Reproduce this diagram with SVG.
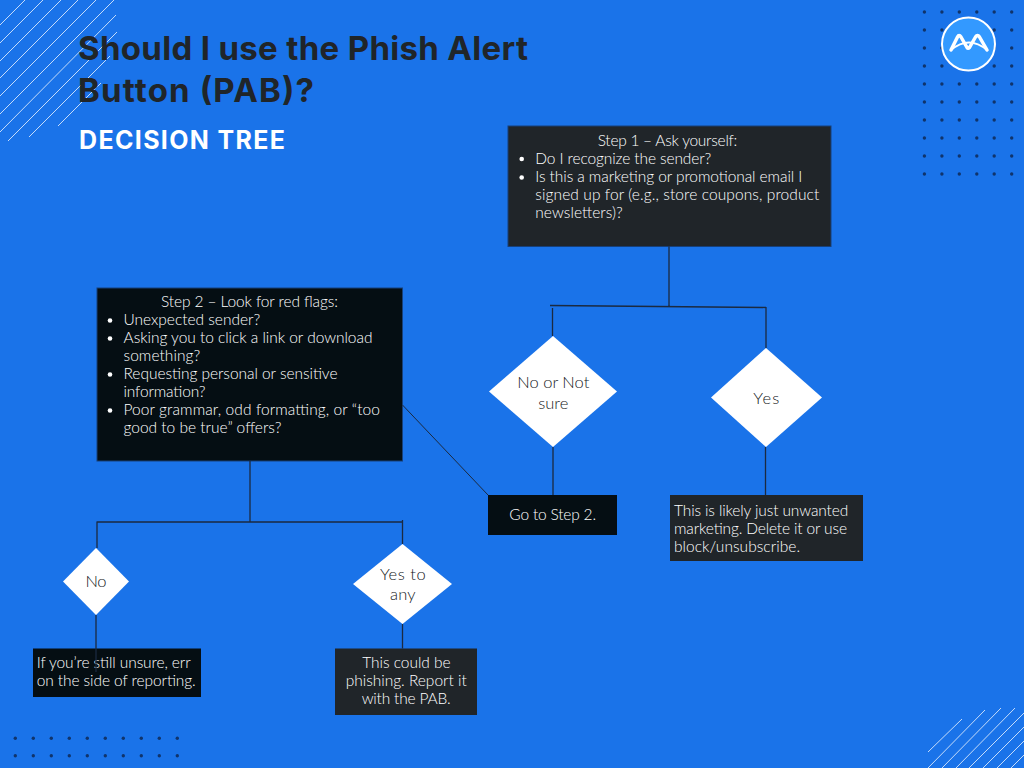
<svg xmlns="http://www.w3.org/2000/svg" width="1024" height="768" viewBox="0 0 1024 768">
<style>
text{font-family:"Lato","Noto Sans",sans-serif}
.t{font-family:Inter,"Liberation Sans",sans-serif;font-weight:700}
.b{font-size:15.500px;fill:#fff;font-weight:300}
.d{font-size:16.500px;fill:#15181b;text-anchor:middle;font-weight:300}
.c{text-anchor:middle}
.dk{fill:#202529}
.bk{fill:#050e13}
.w{fill:#fff}
.bul{fill:#fff}
.st{stroke:#fff;stroke-width:1;fill:none;opacity:.75}
.con{stroke:#1b2a40;stroke-width:1.300;fill:none}
.box{stroke:#17407a;stroke-width:1}
</style>
<defs>
<circle id="dot" r="1.7" fill="#10346b"/>
</defs>
<rect width="1024" height="768" fill="#1a73e9"/>
<g id="stripes-tl" class="st">
<path d="M0 25L25 0M0 43L43 0M0 61L61 0M0 78L78 0M0 96L96 0M0 114L114 0M0 132L116 15M8 141L117 32M29 137L110 56M58 126L101 83"/>
</g>
<g id="stripes-br" class="st">
<path d="M928 752L962 719M928 768L985 710M942 768L1001 708M956 768L1015 708M969 768L1024 713M983 768L1024 727M997 768L1024 741M1011 768L1024 755"/>
</g>
<g id="dots-tr">
<use href="#dot" x="924.4" y="12"/><use href="#dot" x="941.9" y="12"/><use href="#dot" x="959.3" y="12"/><use href="#dot" x="976.8" y="12"/><use href="#dot" x="994.2" y="12"/><use href="#dot" x="1011.7" y="12"/>
<use href="#dot" x="924.4" y="30"/><use href="#dot" x="941.9" y="30"/><use href="#dot" x="994.2" y="30"/><use href="#dot" x="1011.7" y="30"/>
<use href="#dot" x="924.4" y="48"/><use href="#dot" x="941.9" y="48"/><use href="#dot" x="994.2" y="48"/><use href="#dot" x="1011.7" y="48"/>
<use href="#dot" x="924.4" y="66"/><use href="#dot" x="941.9" y="66"/><use href="#dot" x="994.2" y="66"/><use href="#dot" x="1011.7" y="66"/>
<use href="#dot" x="924.4" y="84"/><use href="#dot" x="941.9" y="84"/><use href="#dot" x="959.3" y="84"/><use href="#dot" x="976.8" y="84"/><use href="#dot" x="994.2" y="84"/><use href="#dot" x="1011.7" y="84"/>
<use href="#dot" x="924.4" y="102"/><use href="#dot" x="941.9" y="102"/><use href="#dot" x="959.3" y="102"/><use href="#dot" x="976.8" y="102"/><use href="#dot" x="994.2" y="102"/><use href="#dot" x="1011.7" y="102"/>
<use href="#dot" x="924.4" y="120"/><use href="#dot" x="941.9" y="120"/><use href="#dot" x="959.3" y="120"/><use href="#dot" x="976.8" y="120"/><use href="#dot" x="994.2" y="120"/><use href="#dot" x="1011.7" y="120"/>
<use href="#dot" x="924.4" y="138"/><use href="#dot" x="941.9" y="138"/><use href="#dot" x="959.3" y="138"/><use href="#dot" x="976.8" y="138"/><use href="#dot" x="994.2" y="138"/><use href="#dot" x="1011.7" y="138"/>
<use href="#dot" x="924.4" y="156"/><use href="#dot" x="941.9" y="156"/><use href="#dot" x="959.3" y="156"/><use href="#dot" x="976.8" y="156"/><use href="#dot" x="994.2" y="156"/><use href="#dot" x="1011.7" y="156"/>
<use href="#dot" x="924.4" y="174"/><use href="#dot" x="941.9" y="174"/><use href="#dot" x="959.3" y="174"/><use href="#dot" x="976.8" y="174"/><use href="#dot" x="994.2" y="174"/><use href="#dot" x="1011.7" y="174"/>
</g>
<g id="dots-bl">
<use href="#dot" x="15.3" y="738.3"/><use href="#dot" x="33.3" y="738.3"/><use href="#dot" x="51.3" y="738.3"/><use href="#dot" x="69.3" y="738.3"/><use href="#dot" x="87.3" y="738.3"/><use href="#dot" x="105.3" y="738.3"/><use href="#dot" x="123.3" y="738.3"/><use href="#dot" x="141.3" y="738.3"/><use href="#dot" x="159.3" y="738.3"/><use href="#dot" x="177.3" y="738.3"/>
<use href="#dot" x="15.3" y="755.7"/><use href="#dot" x="33.3" y="755.7"/><use href="#dot" x="51.3" y="755.7"/><use href="#dot" x="69.3" y="755.7"/><use href="#dot" x="87.3" y="755.7"/><use href="#dot" x="105.3" y="755.7"/><use href="#dot" x="123.3" y="755.7"/><use href="#dot" x="141.3" y="755.7"/><use href="#dot" x="159.3" y="755.7"/><use href="#dot" x="177.3" y="755.7"/>
</g>
<g id="logo">
<circle cx="968.5" cy="44" r="26.5" fill="#3399ff" stroke="#fff" stroke-width="2"/>
<path d="M951 50L957.500 37Q959 34 961 37L967 47.500Q968 49 969.500 47.500L975.500 37Q977.500 34 979.500 37L987 50" fill="none" stroke="#fff" stroke-width="3.500" stroke-linecap="round" stroke-linejoin="round"/>
<path d="M951 50Q969 35 987 50" fill="none" stroke="#fff" stroke-width="1.800"/>
</g>
<g id="title">
<text class="t" x="78" y="60" font-size="33" fill="#202529" textLength="450">Should I use the Phish Alert</text>
<text class="t" x="78" y="102" font-size="33" fill="#202529" textLength="236">Button (PAB)?</text>
<text class="t" x="79" y="148.500" font-size="25" fill="#fff" textLength="206">DECISION TREE</text>
</g>
<g id="step1">
<rect class="dk box" x="508" y="126" width="323" height="120.500"/>
<text class="b" x="597.700" y="146" textLength="139.600">Step 1 – Ask yourself:</text>
<circle class="bul" cx="521.700" cy="159" r="2.300"/><circle class="bul" cx="521.700" cy="177.500" r="2.300"/>
<text class="b" x="535.300" y="164" textLength="176">Do I recognize the sender?</text>
<text class="b" x="535.300" y="182" textLength="267">Is this a marketing or promotional email I</text>
<text class="b" x="535.300" y="200" textLength="284">signed up for (e.g., store coupons, product</text>
<text class="b" x="535.300" y="218" textLength="87.500">newsletters)?</text>
</g>
<g id="step2">
<rect class="bk box" x="97" y="288" width="305.500" height="173"/>
<text class="b" x="161" y="307" textLength="177">Step 2 – Look for red flags:</text>
<circle class="bul" cx="110" cy="320.500" r="2.300"/><circle class="bul" cx="110" cy="338.500" r="2.300"/><circle class="bul" cx="110" cy="374.500" r="2.300"/><circle class="bul" cx="110" cy="410.500" r="2.300"/>
<text class="b" x="123.500" y="325" textLength="136.700">Unexpected sender?</text>
<text class="b" x="123.500" y="343" textLength="249">Asking you to click a link or download</text>
<text class="b" x="123.500" y="361" textLength="76.700">something?</text>
<text class="b" x="123.500" y="379" textLength="214">Requesting personal or sensitive</text>
<text class="b" x="123.500" y="397" textLength="82">information?</text>
<text class="b" x="123.500" y="415" textLength="256.500">Poor grammar, odd formatting, or “too</text>
<text class="b" x="123.500" y="433" textLength="158">good to be true” offers?</text>
</g>
<g id="d-notsure">
<polygon class="w" points="553,336 617,391.500 553,447 489,391.500"/>
<text class="d" x="553.300" y="388" textLength="72">No or Not</text>
<text class="d" x="553.300" y="408.500" textLength="30">sure</text>
</g>
<g id="d-yes">
<polygon class="w" points="766,348 822,397.500 766,447 711,397.500"/>
<text class="d" x="766.300" y="404" textLength="26">Yes</text>
</g>
<g id="go-step2">
<rect class="bk" x="488" y="495" width="129" height="40"/>
<text class="b" x="509.300" y="520" textLength="86.700">Go to Step 2.</text>
</g>
<g id="unwanted">
<rect class="dk" x="670" y="495" width="193" height="66"/>
<text class="b" x="674" y="516" textLength="174.300">This is likely just unwanted</text>
<text class="b" x="674" y="534" textLength="173">marketing. Delete it or use</text>
<text class="b" x="674" y="552" textLength="126">block/unsubscribe.</text>
</g>
<g id="d-no">
<polygon class="w" points="96,548 129,581.500 96,615 63,581.500"/>
<text class="d" x="96" y="587" textLength="21">No</text>
</g>
<g id="d-yesany">
<polygon class="w" points="402.500,544 452,584 402.500,624 353,584"/>
<text class="d" x="402.800" y="580" textLength="45.700">Yes to</text>
<text class="d" x="402.800" y="600" textLength="25.700">any</text>
</g>
<g id="unsure">
<rect class="bk" x="33" y="648.500" width="168" height="48.500"/>
<text class="b" x="36.700" y="668" textLength="154">If you’re still unsure, err</text>
<text class="b" x="36.700" y="686" textLength="159">on the side of reporting.</text>
</g>
<g id="phishing">
<rect class="dk" x="335" y="648.500" width="142" height="66.500"/>
<text class="b" x="362.300" y="668" textLength="88.300">This could be</text>
<text class="b" x="345.700" y="686" textLength="121">phishing. Report it</text>
<text class="b" x="361.700" y="704" textLength="89">with the PAB.</text>
</g>
<g id="connectors" class="con">
<path d="M669 246.500V306.500M550 305.500L766 307.500M552.500 308V336M766 307V348M553 447V495M765.500 447V495"/>
<path d="M250 461V522M96.500 522H402.500M97 522V548M402.500 520V544M96 615V672M402.500 624V648.500"/>
<path d="M402.500 405L488 495" stroke-width="1"/>
</g>
</svg>
